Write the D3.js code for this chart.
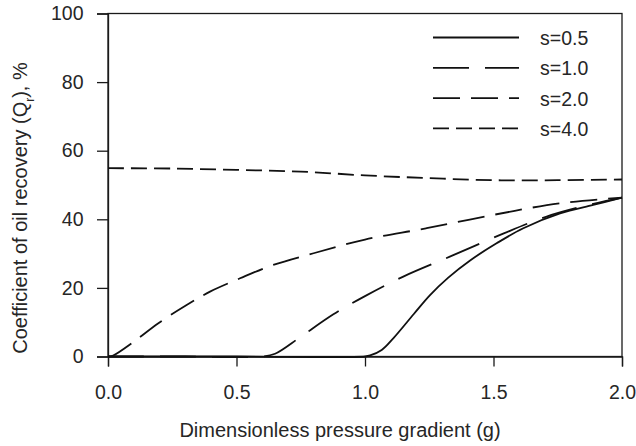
<!DOCTYPE html>
<html>
<head>
<meta charset="utf-8">
<script src="https://cdnjs.cloudflare.com/ajax/libs/d3/7.8.5/d3.min.js"></script>
<style>
  body { margin: 0; background: #fff; }
  svg text { font-family: "Liberation Sans", Arial, sans-serif; fill: #262626; }
</style>
</head>
<body>
<div id="chart"></div>
<script>
// values
var xTicks = [0, 0.5, 1.0, 1.5, 2.0];
var yTicks = [0, 20, 40, 60, 80, 100];

var s05 = [[0, 0], [0.5, 0], [1.0, 0], [1.02, 0.3], [1.065, 1.9], [1.11, 5.3], [1.19, 12.4], [1.253, 17.9],
           [1.324, 23.0], [1.409, 28.0], [1.512, 33], [1.616, 37.4], [1.759, 41.7], [1.888, 44.2], [2.0, 46.3]];
var s10 = [[0, 0], [0.3, 0], [0.6, 0], [0.65, 0.8], [0.747, 5.6], [0.877, 12.3], [1.0, 17.6], [1.149, 23.3],
           [1.33, 29.1], [1.54, 35.9], [1.707, 40.8], [1.85, 43.8], [2.0, 46.3]];
var s20 = [[0, 0], [0.02, 0.3], [0.1, 4.3], [0.196, 9.7], [0.306, 15], [0.397, 18.9], [0.514, 22.8], [0.643, 26.7],
           [0.8, 30.1], [1.0, 34.1], [1.24, 37.4], [1.5, 41.3], [1.76, 44.7], [2.0, 46.3]];
var s40 = [[0, 54.9], [0.25, 54.8], [0.5, 54.4], [0.75, 53.9], [1.0, 52.8], [1.25, 52], [1.5, 51.4],
           [1.75, 51.4], [2.0, 51.6]];

var seriesNames = ["s=0.5", "s=1.0", "s=2.0", "s=4.0"];
var seriesData = [s05, s10, s20, s40];
var seriesDash = [null, "36,16", "27,11", "16,7"];

var width = 636, height = 446;
var margin = {top: 13.5, right: 14, bottom: 89.5, left: 108};
var w = width - margin.left - margin.right;
var h = height - margin.top - margin.bottom;

var svg = d3.select("#chart").append("svg")
	.attr("width", width)
	.attr("height", height);

var g = svg.append("g")
	.attr("transform", "translate(" + margin.left + "," + margin.top + ")");

var x = d3.scaleLinear().domain([0, 2]).range([0, w]);
var y = d3.scaleLinear().domain([0, 100]).range([h, 0]);

// frame
g.append("rect")
	.attr("x", 0).attr("y", 0)
	.attr("width", w).attr("height", h)
	.attr("fill", "none")
	.attr("stroke", "#1a1a1a")
	.attr("stroke-width", 1.3);

var xAxis = d3.axisBottom(x)
	.tickValues(xTicks)
	.tickFormat(d3.format(".1f"))
	.tickSize(10)
	.tickPadding(18.5);

var yAxis = d3.axisLeft(y)
	.tickValues(yTicks)
	.tickSize(11)
	.tickPadding(13.5);

g.append("g")
	.attr("class", "x axis")
	.attr("transform", "translate(0," + h + ")")
	.call(xAxis);

g.append("g")
	.attr("class", "y axis")
	.call(yAxis);

g.selectAll(".axis .domain").attr("stroke", "#1a1a1a").attr("stroke-width", 1.3);
g.selectAll(".axis line").attr("stroke", "#1a1a1a").attr("stroke-width", 1.3);
g.selectAll(".axis text")
	.style("font-size", "19.5px")
	.attr("fill", "#262626");

// axis titles
svg.append("text")
	.attr("x", 340)
	.attr("y", 437)
	.attr("text-anchor", "middle")
	.style("font-size", "20px")
	.text("Dimensionless pressure gradient (g)");

var yt = svg.append("text")
	.attr("transform", "translate(27,208) rotate(-90)")
	.attr("text-anchor", "middle")
	.style("font-size", "20px");
yt.append("tspan").text("Coefficient of oil recovery (Q");
yt.append("tspan").attr("baseline-shift", "sub").style("font-size", "12px").text("r");
yt.append("tspan").text("), %");

// curves
var line = d3.line()
	.x(function(d) { return x(d[0]); })
	.y(function(d) { return y(d[1]); })
	.curve(d3.curveCatmullRom.alpha(0.5));

g.selectAll(".curve")
	.data(seriesData)
	.enter().append("path")
	.attr("class", "curve")
	.attr("d", line)
	.attr("fill", "none")
	.attr("stroke", "#111")
	.attr("stroke-width", 1.8)
	.attr("stroke-dasharray", function(d, i) { return seriesDash[i]; });

// legend
var legend = svg.append("g").attr("transform", "translate(433,37.5)");
var rows = legend.selectAll(".row")
	.data(seriesNames)
	.enter().append("g")
	.attr("class", "row")
	.attr("transform", function(d, i) { return "translate(0," + (i * 30.3) + ")"; });

rows.append("line")
	.attr("x1", 0).attr("x2", 86)
	.attr("y1", 0).attr("y2", 0)
	.attr("stroke", "#111")
	.attr("stroke-width", 1.8)
	.attr("stroke-dasharray", function(d, i) { return seriesDash[i]; });

rows.append("text")
	.attr("x", 107)
	.attr("y", 7.5)
	.style("font-size", "19.5px")
	.text(function(d) { return d; });
</script>
</body>
</html>
